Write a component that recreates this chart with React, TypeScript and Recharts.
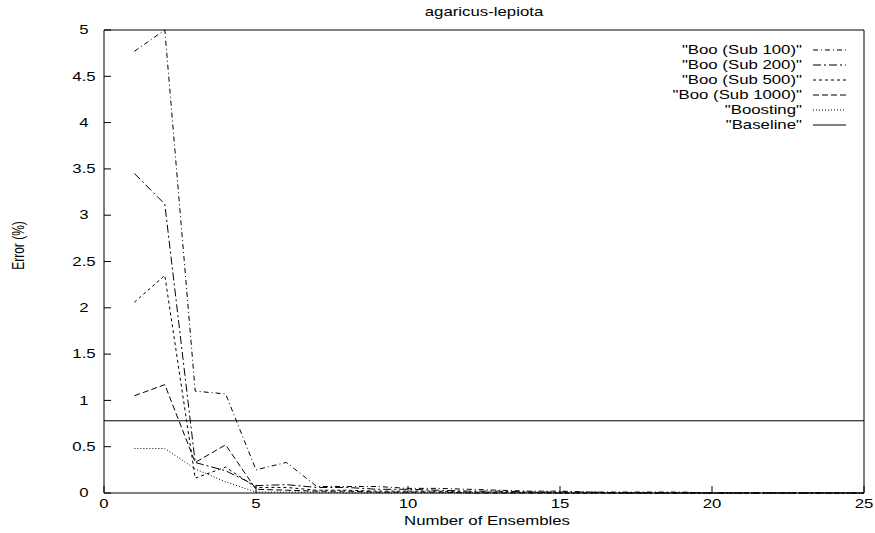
import React from 'react';
import {
  LineChart,
  Line,
  XAxis,
  YAxis,
  ReferenceLine,
  Legend,
} from 'recharts';

// number of ensembles (x)
const ENSEMBLES = [1, 2, 3, 4, 5, 6, 7, 8, 9, 10, 11, 12, 13, 14, 15, 16, 17, 18, 19, 20, 21, 22, 23, 24, 25];

// error (%) per series
const SUB100 = [4.77, 5.0, 1.1, 1.07, 0.25, 0.33, 0.07, 0.07, 0.07, 0.05, 0.05, 0.04, 0.03, 0.02, 0.02, 0.01, 0.01, 0.01, 0.01, 0, 0, 0, 0, 0, 0];
const SUB200 = [3.45, 3.12, 0.33, 0.24, 0.08, 0.09, 0.06, 0.06, 0.04, 0.04, 0.03, 0.02, 0.02, 0.01, 0.01, 0.01, 0, 0, 0, 0, 0, 0, 0, 0, 0];
const SUB500 = [2.06, 2.35, 0.16, 0.28, 0.06, 0.06, 0.03, 0.03, 0.02, 0.02, 0.02, 0.01, 0.01, 0.01, 0, 0, 0, 0, 0, 0, 0, 0, 0, 0, 0];
const SUB1000 = [1.05, 1.17, 0.33, 0.52, 0.04, 0.03, 0.02, 0.02, 0.01, 0.01, 0.01, 0, 0, 0, 0, 0, 0, 0, 0, 0, 0, 0, 0, 0, 0];
const BOOSTING = [0.48, 0.48, 0.26, 0.12, 0.01, 0.01, 0.01, 0, 0, 0, 0, 0, 0, 0, 0, 0, 0, 0, 0, 0, 0, 0, 0, 0, 0];
const BASELINE = 0.78;

const X_TICKS = [0, 5, 10, 15, 20, 25];
const Y_TICKS = [0, 0.5, 1, 1.5, 2, 2.5, 3, 3.5, 4, 4.5, 5];

const SERIES = [
  { key: 's100', name: '"Boo (Sub 100)"', dash: '5 3 1 3' },
  { key: 's200', name: '"Boo (Sub 200)"', dash: '8 3 2 3' },
  { key: 's500', name: '"Boo (Sub 500)"', dash: '3 3' },
  { key: 's1000', name: '"Boo (Sub 1000)"', dash: '6 3' },
  { key: 'boost', name: '"Boosting"', dash: '1 2' },
];

const data = ENSEMBLES.map((n, i) => ({
  n,
  s100: SUB100[i],
  s200: SUB200[i],
  s500: SUB500[i],
  s1000: SUB1000[i],
  boost: BOOSTING[i],
}));

const FONT = '"Liberation Sans", Arial, sans-serif';
const FS = 12;
const SX = 1.4; // the reference text is drawn wide

// text stretched horizontally like the gnuplot output
const Stretch = ({ x, y, anchor = 'middle', rotate = 0, children }: any) => (
  <g transform={`translate(${x},${y}) scale(${SX},1)${rotate ? ` rotate(${rotate})` : ''}`}>
    <text x={0} y={0} dy="0.35em" textAnchor={anchor} fontFamily={FONT} fontSize={FS} fill="#000">
      {children}
    </text>
  </g>
);

const YTick = ({ x, y, payload }: any) => <Stretch x={x} y={y}>{payload.value}</Stretch>;
const XTick = ({ x, y, payload }: any) => <Stretch x={x} y={y}>{payload.value}</Stretch>;

const LegendBox = () => (
  <svg width={875} height={533} style={{ position: 'absolute', left: 0, top: 0 }}>
    {[...SERIES, { key: 'base', name: '"Baseline"', dash: undefined }].map((s, i) => {
      const y = 50 + i * 15;
      return (
        <g key={s.key}>
          <Stretch x={802} y={y} anchor="end">{s.name}</Stretch>
          <line x1={813} x2={846} y1={y} y2={y} stroke="#000" strokeWidth={1} strokeDasharray={s.dash} />
        </g>
      );
    })}
  </svg>
);

export default function App() {
  return (
    <div style={{ position: 'absolute', left: 0, top: 0, background: '#fff' }}>
      <LineChart width={875} height={533} data={data} margin={{ top: 0, right: 0, bottom: 0, left: 0 }}>
        <XAxis
          dataKey="n"
          type="number"
          domain={[0, 25]}
          ticks={X_TICKS}
          height={40}
          stroke="#000"
          tickSize={-7}
          tickMargin={18}
          tick={<XTick />}
          label={{
            content: ({ viewBox }: any) => (
              <Stretch x={viewBox.x + viewBox.width / 2 + 3} y={viewBox.y + 28}>Number of Ensembles</Stretch>
            ),
          }}
        />
        <XAxis
          xAxisId="top"
          dataKey="n"
          type="number"
          orientation="top"
          domain={[0, 25]}
          ticks={X_TICKS}
          height={30}
          stroke="#000"
          tickSize={-7}
          tick={false}
          label={{
            content: ({ viewBox }: any) => (
              <Stretch x={viewBox.x + viewBox.width / 2} y={12}>agaricus-lepiota</Stretch>
            ),
          }}
        />
        <YAxis
          yAxisId="l"
          domain={[0, 5]}
          ticks={Y_TICKS}
          width={104}
          stroke="#000"
          tickSize={-7}
          tickMargin={27}
          tick={<YTick />}
          label={{
            content: ({ viewBox }: any) => (
              <Stretch x={18} y={viewBox.y + viewBox.height / 2 - 16} rotate={-90}>Error (%)</Stretch>
            ),
          }}
        />
        <YAxis
          yAxisId="r"
          orientation="right"
          domain={[0, 5]}
          ticks={Y_TICKS}
          width={11}
          stroke="#000"
          tickSize={-7}
          tick={false}
        />
        <ReferenceLine yAxisId="l" y={BASELINE} stroke="#000" strokeWidth={1} />
        {SERIES.map((s) => (
          <Line
            key={s.key}
            yAxisId="l"
            type="linear"
            dataKey={s.key}
            name={s.name}
            stroke="#000"
            strokeWidth={1}
            strokeDasharray={s.dash}
            dot={false}
            isAnimationActive={false}
          />
        ))}
        <Legend
          layout="horizontal"
          verticalAlign="middle"
          align="center"
          wrapperStyle={{ position: 'absolute', top: 0, left: 0, width: 875, height: 533, pointerEvents: 'none' }}
          content={() => <LegendBox />}
        />
      </LineChart>
    </div>
  );
}
